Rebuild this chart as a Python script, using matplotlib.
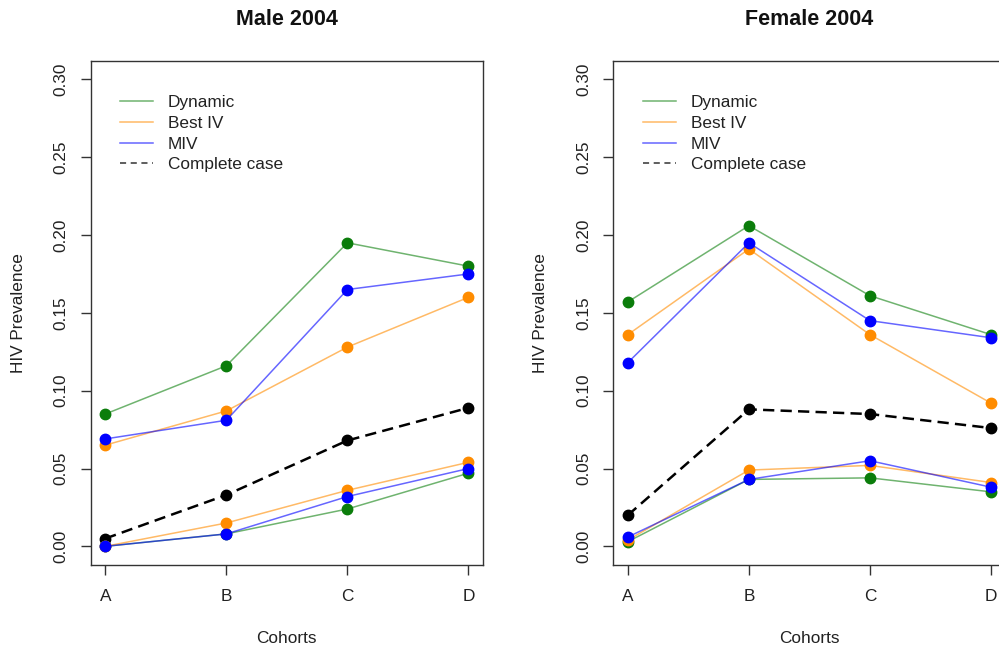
import matplotlib
matplotlib.use('Agg')
import matplotlib.pyplot as plt
from matplotlib.lines import Line2D

plt.rcParams['font.family'] = ['Liberation Sans', 'DejaVu Sans']

cohorts = ['A', 'B', 'C', 'D']
x = [1, 2, 3, 4]

# male 2004: upper / lower bounds and complete case
male_dyn_hi = [0.085, 0.116, 0.195, 0.180]
male_dyn_lo = [0.000, 0.008, 0.024, 0.047]
male_biv_hi = [0.065, 0.087, 0.128, 0.160]
male_biv_lo = [0.000, 0.015, 0.036, 0.054]
male_miv_hi = [0.069, 0.081, 0.165, 0.175]
male_miv_lo = [0.000, 0.008, 0.032, 0.050]
male_cc = [0.005, 0.033, 0.068, 0.089]

# female 2004
female_dyn_hi = [0.157, 0.206, 0.161, 0.136]
female_dyn_lo = [0.003, 0.043, 0.044, 0.035]
female_biv_hi = [0.136, 0.191, 0.136, 0.092]
female_biv_lo = [0.004, 0.049, 0.052, 0.041]
female_miv_hi = [0.118, 0.195, 0.145, 0.134]
female_miv_lo = [0.006, 0.043, 0.055, 0.038]
female_cc = [0.020, 0.088, 0.085, 0.076]

yticks = [0.00, 0.05, 0.10, 0.15, 0.20, 0.25, 0.30]
ytick_labels = ['0.00', '0.05', '0.10', '0.15', '0.20', '0.25', '0.30']

green_line = (34/255, 139/255, 34/255, 0.65)
green_pt = '#0b7d0b'
orange_line = (1.0, 140/255, 0.0, 0.6)
orange_pt = '#ff8c00'
blue_line = (0.0, 0.0, 1.0, 0.6)
blue_pt = '#0000ff'

fs = 12.4
txt = '#222222'

fig = plt.figure(figsize=(9.99, 6.52), dpi=100)
ax1 = fig.add_axes([0.0908, 0.1334, 0.3927, 0.7735])
ax2 = fig.add_axes([0.6139, 0.1334, 0.3927, 0.7735])


def draw(ax, title, dyn, biv, miv, cc):
    ax.plot(x, cc, color='black', lw=1.8, dashes=(4.5, 2.5),
            marker='o', ms=7.5, mfc='black', mec='black')
    for (hi, lo), lc, pc in [(dyn, green_line, green_pt),
                             (biv, orange_line, orange_pt),
                             (miv, blue_line, blue_pt)]:
        for series in (hi, lo):
            ax.plot(x, series, color=lc, lw=1.1, marker='o', ms=7.5,
                    mfc=pc, mec=pc)
    ax.set_xlim(0.88, 4.12)
    ax.set_ylim(-0.012, 0.312)
    ax.set_xticks(x)
    ax.set_xticklabels(cohorts, fontsize=fs, color=txt)
    ax.set_yticks(yticks)
    ax.set_yticklabels(ytick_labels, fontsize=fs, color=txt, rotation=90, va='center')
    ax.tick_params(axis='x', length=7, width=1, color='#333333', pad=10)
    ax.tick_params(axis='y', length=7, width=1, color='#333333', pad=9)
    for sp in ax.spines.values():
        sp.set_color('#333333')
        sp.set_linewidth(1)
    ax.set_title(title, fontweight='bold', fontsize=15.5, y=1.07, pad=0,
                 color='#111111')
    ax.set_xlabel('Cohorts', fontsize=fs, color=txt, va='center')
    ax.xaxis.set_label_coords(0.5, -0.1448)
    ax.set_ylabel('HIV Prevalence', fontsize=fs, color=txt, va='center')
    ax.yaxis.set_label_coords(-0.185, 0.5)

    handles = [Line2D([], [], color=green_line, lw=1.1),
               Line2D([], [], color=orange_line, lw=1.1),
               Line2D([], [], color=blue_line, lw=1.1),
               Line2D([], [], color='#333333', lw=1.1, dashes=(4, 3))]
    ax.legend(handles, ['Dynamic', 'Best IV', 'MIV', 'Complete case'],
              loc='upper left', bbox_to_anchor=(0.0747, 0.932), frameon=False,
              borderpad=0, borderaxespad=0, fontsize=fs, handlelength=1.92,
              handletextpad=0.87, labelspacing=0.33, labelcolor=txt)


draw(ax1, 'Male 2004', (male_dyn_hi, male_dyn_lo), (male_biv_hi, male_biv_lo),
     (male_miv_hi, male_miv_lo), male_cc)
draw(ax2, 'Female 2004', (female_dyn_hi, female_dyn_lo), (female_biv_hi, female_biv_lo),
     (female_miv_hi, female_miv_lo), female_cc)

fig.savefig('out.png', dpi=100)
